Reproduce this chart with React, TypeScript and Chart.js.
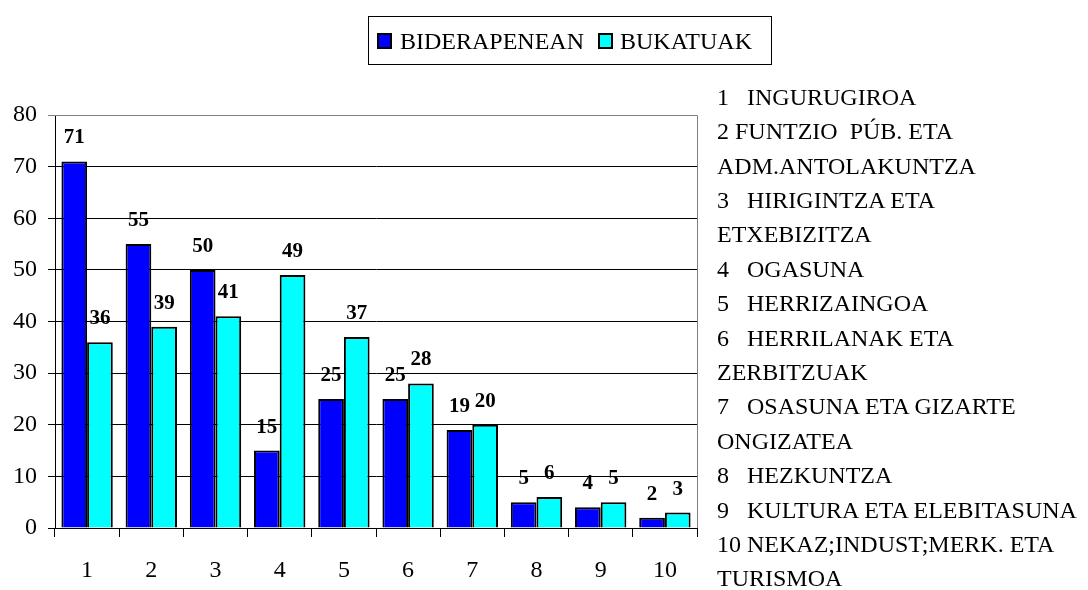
import React, { useEffect, useRef } from "react";
import { Chart, registerables } from "chart.js";

Chart.register(...registerables);

const FONT = "'Liberation Serif', 'Times New Roman', serif";

const categories = ["1", "2", "3", "4", "5", "6", "7", "8", "9", "10"];
const seriesNames = ["BIDERAPENEAN", "BUKATUAK"];
const seriesColors = ["#0000FF", "#00FFFF"];
const bideraPenean = [71, 55, 50, 15, 25, 25, 19, 5, 4, 2];
const bukatuak = [36, 39, 41, 49, 37, 28, 20, 6, 5, 3];
const yMin = 0;
const yMax = 80;
const yStep = 10;
const sideNotes = [
  "1   INGURUGIROA",
  "2 FUNTZIO  PÚB. ETA",
  "ADM.ANTOLAKUNTZA",
  "3   HIRIGINTZA ETA",
  "ETXEBIZITZA",
  "4   OGASUNA",
  "5   HERRIZAINGOA",
  "6   HERRILANAK ETA",
  "ZERBITZUAK",
  "7   OSASUNA ETA GIZARTE",
  "ONGIZATEA",
  "8   HEZKUNTZA",
  "9   KULTURA ETA ELEBITASUNA",
  "10 NEKAZ;INDUST;MERK. ETA",
  "TURISMOA",
];

const valueLabels = {
  id: "valueLabels",
  afterDatasetsDraw(chart: any) {
    const ctx = chart.ctx;
    ctx.save();
    ctx.font = `bold 21px ${FONT}`;
    ctx.fillStyle = "#000";
    ctx.textAlign = "center";
    ctx.textBaseline = "alphabetic";
    chart.data.datasets.forEach((ds: any, i: number) => {
      chart.getDatasetMeta(i).data.forEach((bar: any, j: number) => {
        ctx.fillText(String(ds.data[j]), bar.x, bar.y - 18);
      });
    });
    ctx.restore();
  },
};

const plotBorder = {
  id: "plotBorder",
  beforeDatasetsDraw(chart: any) {
    const { ctx, chartArea } = chart;
    ctx.save();
    ctx.strokeStyle = "#808080";
    ctx.lineWidth = 1;
    ctx.beginPath();
    ctx.moveTo(chartArea.left, chartArea.top + 0.5);
    ctx.lineTo(chartArea.right + 0.5, chartArea.top + 0.5);
    ctx.lineTo(chartArea.right + 0.5, chartArea.bottom);
    ctx.stroke();
    ctx.restore();
  },
};

export default function App() {
  const canvasRef = useRef<HTMLCanvasElement | null>(null);

  useEffect(() => {
    const canvas = canvasRef.current;
    if (!canvas) return;
    const chart = new Chart(canvas, {
      type: "bar",
      data: {
        labels: categories,
        datasets: [
          {
            label: seriesNames[0],
            data: bideraPenean,
            backgroundColor: seriesColors[0],
            borderColor: "#000",
            borderWidth: 2,
          },
          {
            label: seriesNames[1],
            data: bukatuak,
            backgroundColor: seriesColors[1],
            borderColor: "#000",
            borderWidth: 2,
          },
        ],
      },
      options: {
        animation: false,
        responsive: false,
        maintainAspectRatio: false,
        layout: { padding: { left: 0, top: 115, right: 391, bottom: 0 } },
        plugins: { legend: { display: false }, tooltip: { enabled: false } },
        datasets: { bar: { categoryPercentage: 0.8, barPercentage: 1.0 } },
        scales: {
          x: {
            offset: true,
            grid: {
              offset: true,
              drawOnChartArea: false,
              drawTicks: true,
              tickLength: 9,
              color: "#000",
              lineWidth: 1,
            },
            border: { display: true, color: "#000", width: 1 },
            ticks: {
              font: { family: FONT, size: 24 },
              color: "#000",
              padding: 19,
              maxRotation: 0,
              autoSkip: false,
            },
            afterFit: (s: any) => {
              s.height = 62;
            },
          },
          y: {
            min: yMin,
            max: yMax,
            ticks: {
              stepSize: yStep,
              font: { family: FONT, size: 24 },
              color: "#000",
              padding: 11,
            },
            grid: {
              color: (c: any) => (c.tick && c.tick.value === yMax ? "#808080" : "#000"),
              tickLength: 7,
              drawTicks: true,
              lineWidth: 1,
            },
            border: { display: true, color: "#000", width: 1 },
            afterFit: (s: any) => {
              s.width = 55;
            },
          },
        },
      },
      plugins: [plotBorder, valueLabels],
    } as any);
    return () => chart.destroy();
  }, []);

  const textStyle: React.CSSProperties = {
    position: "absolute",
    fontFamily: FONT,
    fontSize: 24,
    lineHeight: "24px",
    color: "#000",
    whiteSpace: "pre",
  };

  return (
    <div
      style={{
        position: "absolute",
        left: 0,
        top: 0,
        width: 1088,
        height: 590,
        background: "#fff",
        overflow: "hidden",
      }}
    >
      <canvas ref={canvasRef} width={1088} height={590} style={{ position: "absolute", left: 0, top: 0 }} />
      <div
        style={{
          position: "absolute",
          left: 368,
          top: 16,
          width: 404,
          height: 49,
          border: "1px solid #000",
          boxSizing: "border-box",
        }}
      />
      <div
        style={{
          position: "absolute",
          left: 377,
          top: 33,
          width: 15,
          height: 16,
          background: seriesColors[0],
          border: "2px solid #000",
          boxSizing: "border-box",
        }}
      />
      <div style={{ ...textStyle, left: 400, top: 29 }}>{seriesNames[0]}</div>
      <div
        style={{
          position: "absolute",
          left: 598,
          top: 33,
          width: 15,
          height: 16,
          background: seriesColors[1],
          border: "2px solid #000",
          boxSizing: "border-box",
        }}
      />
      <div style={{ ...textStyle, left: 620, top: 29 }}>{seriesNames[1]}</div>
      <div
        style={{
          position: "absolute",
          left: 717,
          top: 79.8,
          fontFamily: FONT,
          fontSize: 24,
          lineHeight: "34.4px",
          color: "#000",
          whiteSpace: "pre",
        }}
      >
        {sideNotes.map((t, i) => (
          <div key={i}>{t}</div>
        ))}
      </div>
    </div>
  );
}
